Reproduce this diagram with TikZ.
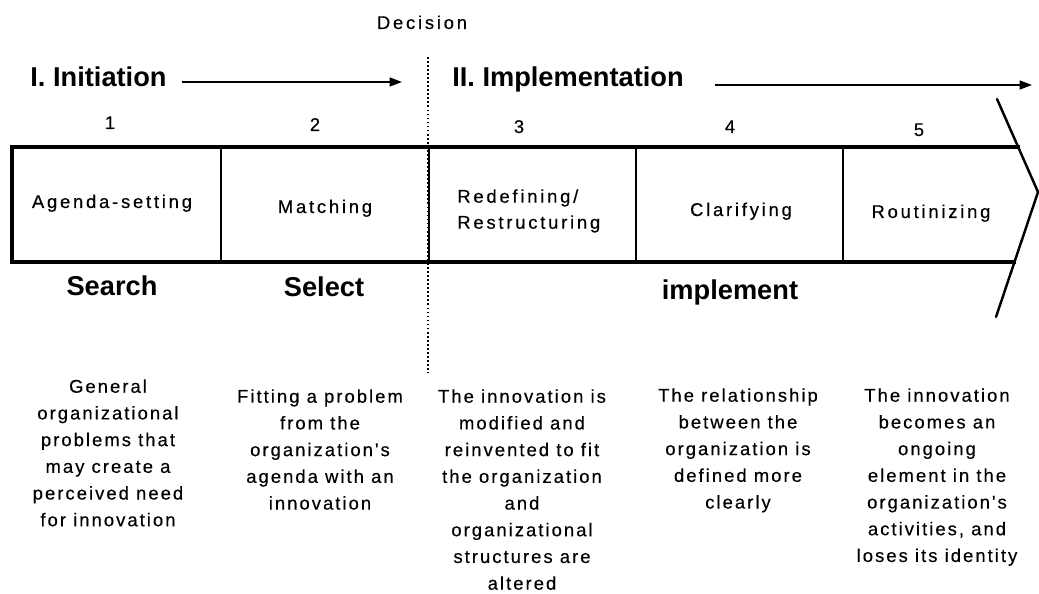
\documentclass[tikz,border=0pt]{standalone}
\usepackage{fontspec}
\setmainfont{Liberation Sans}
\newfontfamily\spacedf[LetterSpace=15,FakeBold=0.35]{Liberation Sans}
\newfontfamily\descf[LetterSpace=11,FakeBold=0.35]{Liberation Sans}
\newfontfamily\numf[FakeBold=0.35]{Liberation Sans}
\usetikzlibrary{arrows.meta}
\begin{document}
\begin{tikzpicture}[x=0.02cm,y=-0.02cm,
  head/.style={font=\fontsize{15.5}{18}\selectfont\bfseries, inner sep=0pt, anchor=base},
  lbl/.style={font=\spacedf\fontsize{10.5}{14.8}\selectfont, inner sep=0pt, anchor=base},
  num/.style={font=\numf\fontsize{10.5}{12}\selectfont, inner sep=0pt, anchor=base},
  desc/.style={font=\descf\fontsize{10.5}{15.2}\selectfont, inner sep=0pt, align=center, anchor=north},
  flow/.style={line width=1.1pt, -{Triangle[length=7pt,width=5pt]}},
  frame/.style={line width=2pt, line cap=rect},
  divider/.style={line width=0.9pt},
  chev/.style={line width=1.4pt, line cap=round},
  decis/.style={line width=1pt, dash pattern=on 1pt off 1.3pt}]
\useasboundingbox (0,0) rectangle (1039,594);
% headings
\node[lbl] (dec) at (422,29) {Decision};
\node[head] (init) at (98.5,87) {I. Initiation};
\node[head] (impl) at (568,87) {II. Implementation};
\coordinate (a1s) at (182,82);
\coordinate (a1e) at (402,82);
\coordinate (a2s) at (715,85);
\coordinate (a2e) at (1032,85);
\draw[flow] (a1s) -- (a1e);
\draw[flow] (a2s) -- (a2e);
% numbers
\node[num] (n1) at (110,129) {1};
\node[num] (n2) at (315,131) {2};
\node[num] (n3) at (519,133) {3};
\node[num] (n4) at (730,133) {4};
\node[num] (n5) at (919,136) {5};
% frame
\coordinate (tl) at (12,147);
\coordinate (bl) at (12,262);
\coordinate (tr) at (1018,147);
\coordinate (br) at (1014,262);
\coordinate (c1) at (997,99);
\coordinate (tip) at (1038,192);
\coordinate (c2) at (996,317);
\draw[frame] (tr) -- (tl) -- (bl) -- (br);
\foreach \xx/\nm in {221/d1,429/d2,636/d3,843/d4}{
  \coordinate (\nm t) at (\xx,147);
  \coordinate (\nm b) at (\xx,262);
  \draw[divider] (\nm t) -- (\nm b);
}
\draw[chev] (c1) -- (tip) -- (c2);
% decision line
\coordinate (dt) at (428,57);
\coordinate (db) at (428,373);
\draw[decis] (dt) -- (db);
% box labels
\node[lbl] (s1) at (112,208) {Agenda-setting};
\node[lbl] (s2) at (325,213) {Matching};
\node[lbl, align=left, anchor=north west] (s3) at (457,189) {Redefining/\\Restructuring};
\node[lbl] (s4) at (741,216) {Clarifying};
\node[lbl] (s5) at (931,218) {Routinizing};
% stage words
\node[head] (w1) at (112,296) {Search};
\node[head] (w2) at (324,297) {Select};
\node[head] (w3) at (730,300) {implement};
% descriptions
\node[desc] (t1) at (108,379) {General\\organizational\\problems that\\may create a\\perceived need\\for innovation};
\node[desc] (t2) at (320,389) {Fitting a problem\\from the\\organization's\\agenda with an\\innovation};
\node[desc] (t3) at (522,389) {The innovation is\\modified and\\reinvented to fit\\the organization\\and\\organizational\\structures are\\altered};
\node[desc] (t4) at (738,388) {The relationship\\between the\\organization is\\defined more\\clearly};
\node[desc] (t5) at (937,388) {The innovation\\becomes an\\ongoing\\element in the\\organization's\\activities, and\\loses its identity};
\end{tikzpicture}
\end{document}
